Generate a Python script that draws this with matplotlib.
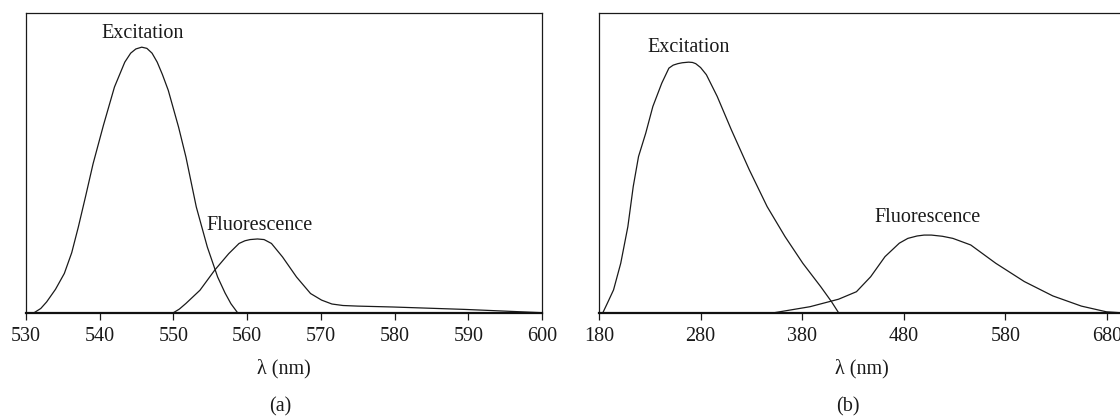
import matplotlib
matplotlib.use("Agg")
import matplotlib.pyplot as plt

plt.rcParams['font.family'] = ['Liberation Serif', 'DejaVu Serif']

# ---- Panel (a) data ----
exc_a_nm = [531.1, 532.0, 532.8, 534.0, 535.2, 536.2, 537.1, 538.1, 539.1, 540.5,
            542.0, 543.4, 544.2, 544.9, 545.7, 546.4, 547.1, 547.8, 548.5, 549.3,
            550.7, 551.7, 553.1, 554.6, 556.0, 557.0, 557.8, 558.7]
exc_a_int = [0.0, 0.014, 0.036, 0.078, 0.131, 0.200, 0.286, 0.390, 0.497, 0.625,
             0.753, 0.836, 0.866, 0.880, 0.886, 0.882, 0.866, 0.836, 0.795, 0.742,
             0.619, 0.519, 0.353, 0.219, 0.119, 0.066, 0.030, 0.0]
flu_a_nm = [550.0, 550.8, 551.7, 553.6, 555.6, 557.5, 558.9, 559.7, 560.4, 561.4,
            562.3, 563.3, 564.8, 566.7, 568.6, 570.1, 571.5, 573.0, 575.0, 579.8,
            589.5, 600.0]
flu_a_int = [0.0, 0.012, 0.031, 0.075, 0.142, 0.197, 0.231, 0.240, 0.244, 0.246,
             0.244, 0.231, 0.186, 0.119, 0.064, 0.042, 0.029, 0.024, 0.022, 0.019,
             0.011, 0.0]
ticks_a = [530, 540, 550, 560, 570, 580, 590, 600]

# ---- Panel (b) data ----
exc_b_nm = [183.8, 188.0, 194.3, 201.4, 208.4, 213.7, 218.9, 226.0, 233.0, 241.8,
            248.8, 253.0, 257.6, 262.0, 268.2, 272.0, 275.2, 280.0, 285.7, 296.3,
            310.3, 327.9, 345.5, 363.1, 380.6, 398.2, 408.8, 415.8]
exc_b_int = [0.0, 0.030, 0.076, 0.165, 0.287, 0.421, 0.521, 0.599, 0.688, 0.766,
             0.816, 0.826, 0.831, 0.834, 0.836, 0.835, 0.831, 0.818, 0.794, 0.722,
             0.610, 0.477, 0.354, 0.254, 0.165, 0.087, 0.037, 0.0]
flu_b_nm = [352.5, 387.7, 415.8, 433.4, 447.4, 461.5, 475.6, 484.0, 493.1, 500.0,
            507.2, 518.0, 528.3, 545.9, 570.5, 598.6, 626.7, 654.8, 679.4, 692.8]
flu_b_int = [0.0, 0.020, 0.045, 0.070, 0.120, 0.187, 0.232, 0.248, 0.256, 0.259,
             0.259, 0.255, 0.248, 0.226, 0.165, 0.104, 0.056, 0.022, 0.003, 0.0]
ticks_b = [180, 280, 380, 480, 580, 680]

W, H = 1120, 418
fig = plt.figure(figsize=(W / 100, H / 100), dpi=100)

line_kw = dict(color='#1a1a1a', lw=0.9, solid_joinstyle='round')
FS = 14.5
txt_kw = dict(fontsize=FS, color='#1a1a1a', ha='center', va='center')


def setup(ax, xlim, ticks):
    ax.set_xlim(*xlim)
    ax.set_ylim(0, 1)
    ax.set_yticks([])
    ax.set_xticks(ticks)
    ax.tick_params(axis='x', direction='out', length=5, width=0.9,
                   labelsize=FS, pad=5, colors='#1a1a1a')
    for s in ['top', 'right', 'left']:
        ax.spines[s].set_linewidth(0.9)
        ax.spines[s].set_color('#1a1a1a')
    ax.spines['bottom'].set_linewidth(1.6)
    ax.spines['bottom'].set_color('#111111')


bot = (H - 312.7) / H
hgt = (312.7 - 13) / H

ax1 = fig.add_axes([26 / W, bot, 516 / W, hgt])
ax1.plot(exc_a_nm, exc_a_int, **line_kw)
ax1.plot(flu_a_nm, flu_a_int, **line_kw)
setup(ax1, (530, 600), ticks_a)
ax1.text(143 / W, 1 - 33 / H, 'Excitation', transform=fig.transFigure, **txt_kw)
ax1.text(260 / W, 1 - 225 / H, 'Fluorescence', transform=fig.transFigure, **txt_kw)

ax2 = fig.add_axes([599 / W, bot, 528.3 / W, hgt])
ax2.plot(exc_b_nm, exc_b_int, **line_kw)
ax2.plot(flu_b_nm, flu_b_int, **line_kw)
setup(ax2, (180, 700), ticks_b)
ax2.text(689 / W, 1 - 48 / H, 'Excitation', transform=fig.transFigure, **txt_kw)
ax2.text(928 / W, 1 - 218 / H, 'Fluorescence', transform=fig.transFigure, **txt_kw)

fig.text(284 / W, 1 - 369 / H, 'λ (nm)', **txt_kw)
fig.text(862 / W, 1 - 369 / H, 'λ (nm)', **txt_kw)
fig.text(280 / W, 1 - 407 / H, '(a)', **txt_kw)
fig.text(848 / W, 1 - 407 / H, '(b)', **txt_kw)

fig.savefig('out.png', dpi=100)
